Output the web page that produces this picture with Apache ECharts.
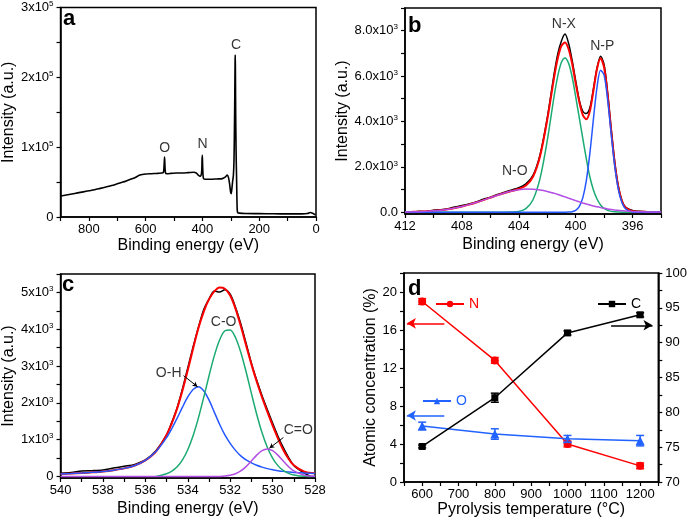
<!DOCTYPE html>
<html><head><meta charset="utf-8">
<script src="https://cdn.jsdelivr.net/npm/echarts@6/dist/echarts.min.js"></script>
<style>html,body{margin:0;padding:0;background:#fff}#c{width:690px;height:521px}</style>
</head><body><div id="c"></div>
<script>
// ---------- Panel a : survey spectrum ----------
const aE = [900,880,860,840,820,800,780,760,740,720,700,680,660,640,620,600,580,560,545,538,535,533.5,532,530,525,510,490,470,450,430,422,415,408,403,401.5,400.5,399.5,398,396,390,370,350,330,320,313,308,304,301,299,297,294,291,289,287.5,286,285,284.5,284,283,282,281,280,279,278,277,275,270,250,200,150,100,50,30,20,12,6,2,0];
const aI = [30000,31500,33000,34500,36000,37500,39000,41000,43000,45000,47500,50000,53000,56000,60000,61500,62000,62500,63000,63500,75000,86000,72000,63000,62000,62500,63000,63000,63500,64000,63000,60000,58500,64000,82000,88500,75000,60000,55000,54000,54000,54500,55000,57000,60000,56000,46000,36000,33500,38000,50000,60000,80000,120000,180000,225000,232000,215000,150000,110000,80000,60000,35000,15000,8000,6000,5500,5000,4800,4600,4500,4500,5000,6500,5500,4000,3000,2500];
const aLabelE = [533, 400, 282];
const aLabelI = [98600, 104000, 246000];
const aLabelText = ['O', 'N', 'C'];
const aXTicks = [0,100,200,300,400,500,600,700,800,900];
const aXLabels = [0,200,400,600,800];
const aYTicks = [0,50000,100000,150000,200000,250000,300000];
const aYLabels = [0,100000,200000,300000];

// ---------- Panel b : N1s ----------
const bE = [412,411.5,411,410.5,410,409.5,409,408.5,408,407.5,407,406.5,406,405.5,405,404.5,404,403.5,403,402.5,402,401.5,401.25,401,400.75,400.5,400.25,400,399.75,399.5,399.25,399,398.75,398.5,398.25,398,397.75,397.5,397.25,397,396.75,396.5,396,395.5,395,394.5,394];
const bData = [20,0,40,30,90,110,150,230,290,360,450,570,660,780,880,980,1080,1250,1620,2550,4150,6150,7000,7550,7850,7450,6700,5800,4950,4450,4350,4600,5450,6350,6870,6500,5250,3650,2200,1150,520,230,80,40,20,10,10];
const bFit = [8,14,23,38,58,88,129,183,250,332,426,531,641,750,849,935,1024,1177,1564,2479,4066,6000,6810,7338,7475,7194,6556,5680,4882,4289,4099,4464,5363,6315,6781,6375,5163,3586,2134,1097,494,207,46,21,13,7,4];
const bNX = [0,0,0,0,0,0,0,0,0,0,0,0,0,0,0,5,35,160,550,1500,3150,5170,6030,6610,6800,6570,5970,5090,4180,3250,2350,1550,980,580,320,165,80,36,15,6,0,0,0,0,0,0,0];
const bNP = [0,0,0,0,0,0,0,0,0,0,0,0,0,0,0,0,0,0,0,0,0,0,0,0,1,5,22,80,245,632,1390,2600,4110,5500,6260,6040,4940,3430,2020,1010,428,153,12,0,0,0,0];
const bNO = [8,14,23,38,58,88,129,183,250,332,426,531,641,750,849,930,989,1017,1014,979,916,830,780,728,674,619,564,510,457,407,359,314,273,235,201,170,143,120,99,81,66,54,34,21,13,7,4];
const bLabelE = [400.83, 398.13, 404.28];
const bLabelI = [8300, 7300, 1790];
const bLabelText = ['N-X', 'N-P', 'N-O'];
const bXTicks = [394,396,398,400,402,404,406,408,410,412];
const bXLabels = [396,400,404,408,412];
const bYTicks = [0,1000,2000,3000,4000,5000,6000,7000,8000,9000];
const bYLabels = [0,2000,4000,6000,8000];

// ---------- Panel c : O1s ----------
const cE = [540,539.5,539,538.5,538,537.5,537,536.5,536,535.5,535,534.75,534.5,534.25,534,533.75,533.5,533.25,533,532.75,532.5,532.25,532,531.75,531.5,531.25,531,530.75,530.5,530.25,530,529.75,529.5,529.25,529,528.5,528];
const cData = [90,110,150,160,180,230,280,330,450,700,1130,1480,1870,2380,2950,3520,4050,4530,4820,5040,5010,5070,4950,4600,4150,3620,3080,2620,2200,1820,1450,1100,790,520,300,90,-60];
const cFit = [68,80,94,113,137,172,221,301,440,677,1131,1450,1850,2335,2889,3472,4026,4473,4810,5027,5133,5101,4914,4560,4086,3565,3052,2579,2153,1761,1387,1037,727,482,307,133,87];
const cOH = [68,80,94,113,137,172,221,301,440,677,1055,1304,1586,1883,2160,2364,2440,2330,2080,1750,1420,1130,900,710,560,450,370,305,255,215,185,160,140,125,112,95,82];
const cCO = [null,null,null,null,null,null,null,null,null,0,76,146,264,452,729,1108,1586,2143,2730,3277,3709,3958,3981,3775,3374,2845,2260,1693,1195,796,499,296,165,87,43,5,0];
const cCdO = [0,0,0,0,0,0,0,0,0,0,0,0,0,0,0,0,0,0,0,0,4,13,33,75,152,270,422,581,703,750,703,581,422,270,152,33,5];
const cLabelE = [532.31, 534.9, 528.79];
const cLabelI = [4200, 2800, 1270];
const cLabelText = ['C-O', 'O-H', 'C=O'];
const cXTicks = [528,529,530,531,532,533,534,535,536,537,538,539,540];
const cXLabels = [528,530,532,534,536,538,540];
const cYTicks = [0,500,1000,1500,2000,2500,3000,3500,4000,4500,5000,5500];
const cYLabels = [0,1000,2000,3000,4000,5000];

// ---------- Panel d : atomic concentration ----------
const dT = [600, 800, 1000, 1200];
const dN = [19.0, 12.8, 4.0, 1.7];
const dNErr = [0.3, 0.3, 0.3, 0.3];
const dO = [5.9, 5.05, 4.55, 4.35];
const dOErr = [0.4, 0.55, 0.35, 0.55];
const dC = [75.1, 82.1, 91.4, 94.0];
const dCErr = [0.2, 0.65, 0.3, 0.3];
const dXTicks = [550,600,650,700,750,800,850,900,950,1000,1050,1100,1150,1200,1250];
const dXLabels = [600,700,800,900,1000,1100,1200];
const dYLTicks = [0,2,4,6,8,10,12,14,16,18,20,22];
const dYLLabels = [0,4,8,12,16,20];
const dYRTicks = [70,72.5,75,77.5,80,82.5,85,87.5,90,92.5,95,97.5,100];
const dYRLabels = [70,75,80,85,90,95,100];

// ---------- helpers ----------
const FONT = 'Liberation Sans, Arial, Helvetica, sans-serif';
const RED = '#ff0000', GREEN = '#1aaa72', BLUE = '#2457ff', PURPLE = '#b24de3', DBLUE = '#2262ff';
function zip(xs, ys) { const o = []; for (let i = 0; i < xs.length; i++) if (ys[i] != null) o.push([xs[i], ys[i]]); return o; }
function zip3(xs, ys, ts) { return xs.map((x, i) => [x, ys[i], ts[i]]); }
const rich = {
  n: { fontSize: 13, fontFamily: FONT, color: '#000', lineHeight: 15 },
  s: { fontSize: 8, fontFamily: FONT, color: '#000', verticalAlign: 'top', lineHeight: 9 }
};
function sci(exp, dec) {
  return function (v) {
    if (v === 0) return dec ? '{n|0.0}' : '{n|0}';
    const m = v / Math.pow(10, exp);
    return '{n|' + (dec ? m.toFixed(1) : String(m)) + 'x10}{s|' + exp + '}';
  };
}
const plain = v => String(v);
const axLine = { show: true, onZero: false, lineStyle: { color: '#000', width: 1.5 } };
function tick(vals) { return { show: true, inside: false, length: 4, lineStyle: { color: '#000', width: 1.2 }, customValues: vals }; }
function lab(vals, margin, fmt) {
  return { customValues: vals, margin: margin, fontSize: 13, fontFamily: FONT, color: '#000', rich: rich, formatter: fmt || plain };
}
const nameStyle = { fontSize: 16, fontFamily: FONT, color: '#000' };
function xAx(g, min, max, ticks, labels, name, gap, inverse) {
  return { type: 'value', gridIndex: g, min: min, max: max, inverse: inverse, axisLine: axLine,
    axisTick: tick(ticks), axisLabel: lab(labels, 6), splitLine: { show: false },
    name: name, nameLocation: 'middle', nameGap: gap, nameTextStyle: nameStyle };
}
function yAx(g, min, max, ticks, labels, name, gap, fmt, pos) {
  return { type: 'value', gridIndex: g, min: min, max: max, position: pos || 'left', axisLine: axLine,
    axisTick: tick(ticks), axisLabel: lab(labels, 7, fmt), splitLine: { show: false },
    name: name, nameLocation: 'middle', nameGap: gap, nameTextStyle: nameStyle };
}
function line(name, xi, yi, data, color, width, z) {
  return { name: name, type: 'line', xAxisIndex: xi, yAxisIndex: yi, data: data, showSymbol: false, symbol: 'none',
    smooth: 0.3, lineStyle: { color: color, width: width }, itemStyle: { color: color }, z: z || 2, silent: true };
}
function labels(name, xi, yi, data, extra) {
  const s = { name: name, type: 'scatter', xAxisIndex: xi, yAxisIndex: yi, data: data, symbolSize: 0, silent: true, z: 5,
    itemStyle: { color: '#000' },
    label: { show: true, position: 'inside', formatter: p => p.value[2], fontSize: 14, fontFamily: FONT, color: '#000',
      textBorderWidth: 0, textBorderColor: 'transparent' } };
  if (extra) s.markLine = extra;
  return s;
}
function errBars(name, yi, ys, errs, color) {
  return { name: name, type: 'custom', xAxisIndex: 3, yAxisIndex: yi, z: 4, silent: true,
    data: dT.map((t, i) => [t, ys[i] - errs[i], ys[i] + errs[i]]),
    renderItem: function (params, api) {
      const x = api.value(0);
      const top = api.coord([x, api.value(2)]);
      const bot = api.coord([x, api.value(1)]);
      const w = 4, st = { stroke: color, lineWidth: 1.5 };
      return { type: 'group', children: [
        { type: 'line', shape: { x1: top[0], y1: top[1], x2: bot[0], y2: bot[1] }, style: st },
        { type: 'line', shape: { x1: top[0] - w, y1: top[1], x2: top[0] + w, y2: top[1] }, style: st },
        { type: 'line', shape: { x1: bot[0] - w, y1: bot[1], x2: bot[0] + w, y2: bot[1] }, style: st }
      ] };
    } };
}
function arrow(color, x1, x2, y) {
  return { silent: true, symbol: ['none', 'arrow'], symbolSize: [8, 9], label: { show: false },
    lineStyle: { color: color, width: 1.5, type: 'solid' }, emphasis: { disabled: true },
    data: [[{ coord: [x1, y] }, { coord: [x2, y] }]] };
}
function legendItem(name, color, left, top) {
  return { data: [{ name: name, textStyle: { color: color } }], left: left, top: top, itemWidth: 28, itemHeight: 8,
    itemGap: 0, selectedMode: false, padding: 0, textStyle: { fontSize: 14, fontFamily: FONT, color: color } };
}
const gridBox = { show: true, borderColor: '#000', borderWidth: 1.5, backgroundColor: 'transparent' };
const ptxt = (t, x, y) => ({ type: 'text', x: x, y: y, style: { text: t, font: 'bold 22px ' + FONT, fill: '#000', verticalAlign: 'middle' }, z: 10 });

const option = {
  animation: false,
  backgroundColor: '#fff',
  grid: [
    Object.assign({ left: 60, top: 7, width: 256, height: 210 }, gridBox),
    Object.assign({ left: 405, top: 8, width: 256, height: 206 }, gridBox),
    Object.assign({ left: 60, top: 274, width: 255, height: 204 }, gridBox),
    Object.assign({ left: 404, top: 273, width: 257, height: 209 }, gridBox)
  ],
  xAxis: [
    xAx(0, 0, 900, aXTicks, aXLabels, 'Binding energy (eV)', 21, true),
    xAx(1, 394, 412, bXTicks, bXLabels, 'Binding energy (eV)', 23, true),
    xAx(2, 528, 540, cXTicks, cXLabels, 'Binding energy (eV)', 23, true),
    xAx(3, 550, 1250, dXTicks, dXLabels, 'Pyrolysis temperature (°C)', 20, false)
  ],
  yAxis: [
    yAx(0, 0, 300000, aYTicks, aYLabels, 'Intensity (a.u.)', 37, sci(5, false)),
    yAx(1, -80, 9000, bYTicks, bYLabels, 'Intensity (a.u.)', 38, sci(3, true)),
    yAx(2, -40, 5500, cYTicks, cYLabels, 'Intensity (a.u.)', 42, sci(3, false)),
    yAx(3, 0, 22, dYLTicks, dYLLabels, 'Atomic concentration (%)', 23, null, 'left'),
    yAx(3, 70, 100, dYRTicks, dYRLabels, '', 0, null, 'right')
  ],
  legend: [
    legendItem('N', RED, 435, 297),
    legendItem('C', '#000', 597, 297),
    legendItem('O', DBLUE, 422, 394)
  ],
  graphic: [ptxt('a', 63, 19), ptxt('b', 408, 26), ptxt('c', 62, 285), ptxt('d', 408, 289)],
  series: [
    // a
    line('a-survey', 0, 0, zip(aE, aI), '#000', 1.6, 2),
    labels('a-lab', 0, 0, zip3(aLabelE, aLabelI, aLabelText)),
    // b
    line('b-data', 1, 1, zip(bE, bData), '#000', 1.5, 2),
    line('b-fit', 1, 1, zip(bE, bFit), RED, 2, 3),
    line('b-NX', 1, 1, zip(bE, bNX), GREEN, 1.5, 4),
    line('b-NP', 1, 1, zip(bE, bNP), BLUE, 1.5, 4),
    line('b-NO', 1, 1, zip(bE, bNO), PURPLE, 1.5, 4),
    labels('b-lab', 1, 1, zip3(bLabelE, bLabelI, bLabelText)),
    // c
    line('c-data', 2, 2, zip(cE, cData), '#000', 1.5, 2),
    line('c-fit', 2, 2, zip(cE, cFit), RED, 2, 3),
    line('c-OH', 2, 2, zip(cE, cOH), BLUE, 1.5, 4),
    line('c-CO', 2, 2, zip(cE, cCO), GREEN, 1.5, 4),
    line('c-CdO', 2, 2, zip(cE, cCdO), PURPLE, 1.5, 4),
    labels('c-lab', 2, 2, zip3(cLabelE, cLabelI, cLabelText), {
      silent: true, symbol: ['none', 'arrow'], symbolSize: [4, 5], label: { show: false },
      lineStyle: { color: '#000', width: 1, type: 'solid' },
      data: [
        [{ coord: [534.2, 2740] }, { coord: [533.54, 2440] }],
        [{ coord: [529.49, 1060] }, { coord: [530.15, 770] }]
      ] }),
    // d
    { name: 'N', type: 'line', xAxisIndex: 3, yAxisIndex: 3, data: zip(dT, dN), symbol: 'circle', symbolSize: 8,
      lineStyle: { color: RED, width: 1.5 }, itemStyle: { color: RED }, z: 3, markLine: arrow(RED, 661, 558, 16.7) },
    { name: 'O', type: 'line', xAxisIndex: 3, yAxisIndex: 3, data: zip(dT, dO), symbol: 'triangle', symbolSize: 9,
      lineStyle: { color: DBLUE, width: 1.5 }, itemStyle: { color: DBLUE }, z: 3, markLine: arrow(DBLUE, 661, 558, 7.0) },
    { name: 'C', type: 'line', xAxisIndex: 3, yAxisIndex: 4, data: zip(dT, dC), symbol: 'rect', symbolSize: 7,
      lineStyle: { color: '#000', width: 1.5 }, itemStyle: { color: '#000' }, z: 3, markLine: arrow('#000', 1120, 1234, 92.5) },
    errBars('N-err', 3, dN, dNErr, RED),
    errBars('O-err', 3, dO, dOErr, DBLUE),
    errBars('C-err', 4, dC, dCErr, '#000')
  ]
};
const chart = echarts.init(document.getElementById('c'), null, { renderer: 'canvas' });
chart.setOption(option);
</script>
</body></html>
